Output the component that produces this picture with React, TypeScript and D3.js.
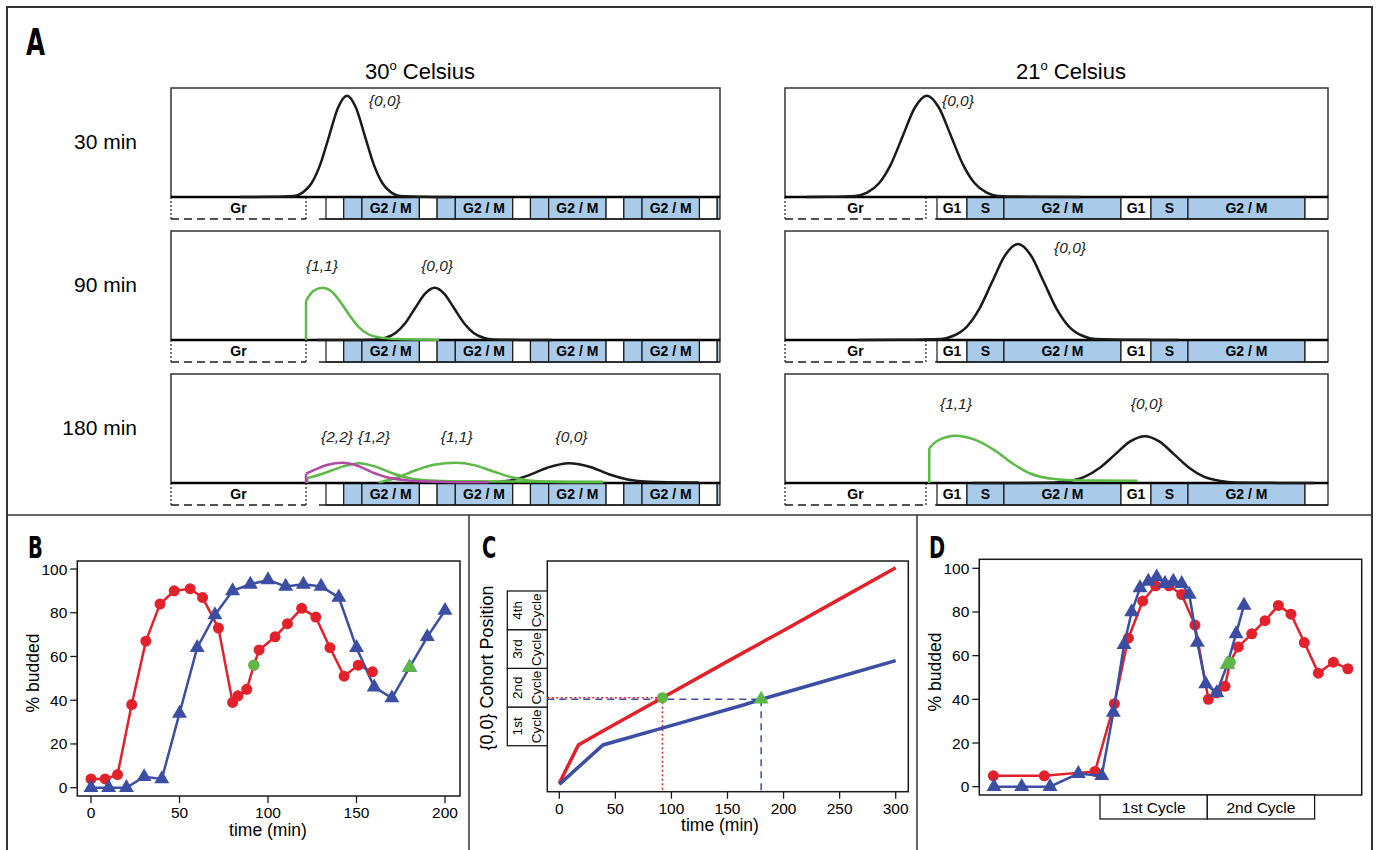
import React from "react";
import * as d3 from "d3";

const FONT = "'Liberation Sans', Arial, Helvetica, sans-serif";
const LABEL_FONT = "'DejaVu Sans Condensed', 'Liberation Sans Narrow', 'Liberation Sans', sans-serif";
const CELL_BLUE = "#a9cbe9";
const RED = "#e3212b";
const NAVY = "#3b4ea3";
const GREEN = "#5cb946";
const MAGENTA = "#b04aa6";
const INK = "#1a1a1a";

// ---------- Panel A: cohort densities (x = cell-cycle units, y = fraction of box height)
const temperatures = ["30", "21"];
const sampleTimes = ["30 min", "90 min", "180 min"];
const warmPhases: [string, number, number][] = [["G1", 0, 0.19], ["S", 0.19, 0.385], ["G2 / M", 0.385, 1]];
const coolPhases: [string, number, number][] = [["G1", 0, 0.163], ["S", 0.163, 0.364], ["G2 / M", 0.364, 1]];

const warm30_00 = [[-0.92, 0], [-0.6, 0.002], [-0.345, 0.01], [-0.25, 0.04], [-0.155, 0.126], [-0.06, 0.302], [0.035, 0.564], [0.13, 0.821], [0.225, 0.93], [0.32, 0.821], [0.415, 0.564], [0.51, 0.302], [0.605, 0.126], [0.7, 0.04], [0.795, 0.01], [1.05, 0.002], [1.35, 0]];
const warm90_11 = [[-0.214, 0.36], [-0.136, 0.45], [-0.038, 0.48], [0.06, 0.445], [0.158, 0.345], [0.257, 0.22], [0.354, 0.116], [0.45, 0.055], [0.57, 0.024], [0.76, 0.009], [1.21, 0.003]];
const warm90_00 = [[-0.096, 0], [0.3, 0.001], [0.536, 0.005], [0.641, 0.021], [0.745, 0.065], [0.85, 0.156], [0.954, 0.291], [1.059, 0.424], [1.163, 0.48], [1.268, 0.424], [1.372, 0.291], [1.477, 0.156], [1.581, 0.065], [1.686, 0.021], [1.79, 0.005], [2.1, 0.001], [2.42, 0]];
const warm180_22 = [[-0.214, 0.085], [-0.097, 0.13], [0.02, 0.167], [0.177, 0.185], [0.33, 0.16], [0.49, 0.1], [0.64, 0.055], [0.88, 0.024], [1.19, 0.012], [1.74, 0.006]];
const warm180_12 = [[-0.2, 0.045], [-0.02, 0.09], [0.177, 0.15], [0.354, 0.182], [0.53, 0.15], [0.725, 0.085], [0.92, 0.04], [1.12, 0.024], [1.6, 0.015], [2.97, 0.012]];
const warm180_11 = [[0.57, 0.006], [0.76, 0.048], [0.955, 0.115], [1.155, 0.167], [1.39, 0.185], [1.585, 0.164], [1.78, 0.11], [1.976, 0.055], [2.17, 0.024], [2.37, 0.012], [2.97, 0.006]];
const warm180_00 = [[1.74, 0.006], [1.976, 0.024], [2.17, 0.07], [2.37, 0.14], [2.6, 0.182], [2.84, 0.145], [3.03, 0.08], [3.23, 0.033], [3.46, 0.012], [3.99, 0.005]];

const cool30_00 = [[-0.71, 0], [-0.6, 0.002], [-0.445, 0.01], [-0.38, 0.04], [-0.315, 0.126], [-0.25, 0.302], [-0.185, 0.564], [-0.12, 0.821], [-0.055, 0.93], [0.01, 0.821], [0.075, 0.564], [0.14, 0.302], [0.205, 0.126], [0.27, 0.04], [0.335, 0.01], [0.5, 0.002], [0.78, 0]];
const cool90_00 = [[-0.43, 0], [-0.2, 0.002], [0.02, 0.01], [0.09, 0.039], [0.16, 0.119], [0.23, 0.286], [0.3, 0.534], [0.37, 0.777], [0.44, 0.88], [0.51, 0.777], [0.58, 0.534], [0.65, 0.286], [0.72, 0.119], [0.79, 0.039], [0.86, 0.01], [1.1, 0.002], [1.31, 0]];
const cool180_11 = [[-0.042, 0.32], [0.005, 0.39], [0.103, 0.433], [0.2, 0.4], [0.316, 0.297], [0.413, 0.176], [0.51, 0.085], [0.626, 0.04], [0.8, 0.024], [1.09, 0.02]];
const cool180_00 = [[0.196, 0], [0.45, 0.001], [0.641, 0.005], [0.722, 0.019], [0.804, 0.058], [0.885, 0.14], [0.967, 0.26], [1.048, 0.38], [1.13, 0.43], [1.21, 0.38], [1.29, 0.26], [1.37, 0.14], [1.45, 0.058], [1.54, 0.019], [1.62, 0.005], [1.85, 0.001], [2.05, 0]];

const warmRows = [
  [{ id: "{0,0}", pts: warm30_00 }],
  [{ id: "{0,0}", pts: warm90_00 }, { id: "{1,1}", pts: warm90_11 }],
  [{ id: "{0,0}", pts: warm180_00 }, { id: "{1,1}", pts: warm180_11 }, { id: "{1,2}", pts: warm180_12 }, { id: "{2,2}", pts: warm180_22 }],
];
const coolRows = [
  [{ id: "{0,0}", pts: cool30_00 }],
  [{ id: "{0,0}", pts: cool90_00 }],
  [{ id: "{0,0}", pts: cool180_00 }, { id: "{1,1}", pts: cool180_11 }],
];
const warmTags: [string, number, number][][] = [
  [["{0,0}", 0.63, 0.88]],
  [["{1,1}", -0.043, 0.68], ["{0,0}", 1.19, 0.68]],
  [["{2,2}", 0.118, 0.42], ["{1,2}", 0.514, 0.42], ["{1,1}", 1.4, 0.42], ["{0,0}", 2.63, 0.42]],
];
const coolTags: [string, number, number][][] = [
  [["{0,0}", 0.114, 0.88]],
  [["{0,0}", 0.723, 0.84]],
  [["{1,1}", 0.103, 0.725], ["{0,0}", 1.14, 0.725]],
];

// ---------- Panel B: % budded vs time
const budTicksX = [0, 50, 100, 150, 200];
const budTicksY = [0, 20, 40, 60, 80, 100];
const budRed30 = [[0, 4], [8, 4], [15, 6], [23, 38], [31, 67], [39, 84], [47, 90], [56, 91], [63, 87], [72, 73], [80, 39], [83, 42], [88, 45], [92, 56], [95, 63], [104, 69], [111, 75], [119, 82], [127, 78], [135, 64], [143, 51], [151, 56], [159, 53]];
const budBlue21 = [[0, 0], [10, 0], [20, 0], [30, 5], [40, 4], [50, 34], [60, 64], [70, 79], [80, 90], [90, 93], [100, 95], [110, 92], [120, 93], [130, 92], [140, 87], [150, 64], [160, 46], [170, 41], [180, 55], [190, 69], [200, 81]];
const budRedMark = [92, 56];
const budBlueMark = [180, 55];

// ---------- Panel C: {0,0} cohort position vs time
const cohortTicksX = [0, 50, 100, 150, 200, 250, 300];
const cycleNames = ["1st", "2nd", "3rd", "4th"];
const cohortRed = [[0, 0.03], [17, 1.02], [40, 1.4], [92, 2.24], [150, 3.18], [200, 3.98], [250, 4.79], [300, 5.6]];
const cohortBlue = [[0, 0], [39, 1.02], [91, 1.45], [165, 2.06], [180, 2.2], [240, 2.7], [300, 3.2]];
const cohortRedMark = [92, 2.24];
const cohortBlueMark = [180, 2.2];

// ---------- Panel D: % budded aligned by cycle position
const alignCycles = ["1st Cycle", "2nd Cycle"];
const alignRed = [[-0.994, 5], [-0.519, 5], [-0.047, 7], [0.134, 38], [0.264, 68], [0.398, 85], [0.519, 92], [0.643, 92], [0.761, 88], [0.885, 74], [1.01, 40], [1.088, 43], [1.165, 46], [1.212, 57], [1.289, 64], [1.414, 70], [1.538, 76], [1.662, 83], [1.78, 79], [1.904, 66], [2.035, 52], [2.175, 57], [2.31, 54]];
const alignBlue = [[-0.988, 0], [-0.73, 0], [-0.466, 0], [-0.202, 6], [0.016, 5], [0.124, 34], [0.224, 65], [0.295, 80], [0.373, 91], [0.45, 94], [0.528, 96], [0.606, 93], [0.683, 94], [0.761, 93], [0.832, 88], [0.907, 66], [0.985, 47], [1.088, 43], [1.187, 56], [1.268, 70], [1.342, 83]];
const alignRedMark = [1.212, 57];
const alignBlueMark = [1.187, 56];

const tagColor = (id: string) => (id === "{0,0}" ? INK : id === "{2,2}" ? MAGENTA : GREEN);

function PanelLetter({ x, y, size, children }: any) {
  return (
    <text transform={`translate(${x},${y}) scale(0.72,1)`} fontFamily={LABEL_FONT} fontWeight="bold" fontSize={size}>{children}</text>
  );
}

function PanelA() {
  const rowTops = [88, 231, 374];
  const boxH = 109;
  const barH = 22;
  const sides = [
    { x0: 171, x1: 720, dom: [-1.66, 4.22], grEnd: -0.214, rowFrom: -0.075, phases: warmPhases, shortTags: false, rows: warmRows, tags: warmTags, titleX: 420 },
    { x0: 785, x1: 1328, dom: [-0.826, 2.125], grEnd: -0.06, rowFrom: -0.01, phases: coolPhases, shortTags: true, rows: coolRows, tags: coolTags, titleX: 1071 },
  ];
  return (
    <g>
      <PanelLetter x={26} y={55} size={38}>A</PanelLetter>
      {sampleTimes.map((t, i) => (
        <text key={t} x={137} y={rowTops[i] + 61} textAnchor="end" fontSize={21}>{t}</text>
      ))}
      {sides.map((s, si) => {
        const xs = d3.scaleLinear().domain(s.dom).range([s.x0, s.x1]);
        const dmax = s.dom[1];
        const cells: { a: number; b: number; name: string }[] = [];
        for (let k = 0; k <= Math.ceil(dmax); k++) {
          for (const [name, from, to] of s.phases) {
            const a = k + from;
            const b = Math.min(k + to, dmax);
            if (a < dmax) cells.push({ a, b, name });
          }
        }
        return (
          <g key={si}>
            <text x={s.titleX} y={79} textAnchor="middle" fontSize={22}>
              {temperatures[si]}
              <tspan dy={-9} fontSize={13}>o</tspan>
              <tspan dy={9}> Celsius</tspan>
            </text>
            {rowTops.map((top, ri) => {
              const base = top + boxH;
              const ys = d3.scaleLinear().domain([0, 1]).range([base, top]);
              const smooth = d3.line<number[]>().x(d => xs(d[0])).y(d => ys(d[1])).curve(d3.curveMonotoneX);
              const straight = d3.line<number[]>().x(d => xs(d[0])).y(d => ys(d[1]));
              return (
                <g key={ri}>
                  {cells.map((c, ci) => {
                    const w = xs(c.b) - xs(c.a);
                    const show = c.name === "G2 / M" || s.shortTags;
                    return (
                      <g key={ci}>
                        <rect x={xs(c.a)} y={base} width={w} height={barH} fill={c.name === "G1" ? "#fff" : CELL_BLUE} stroke={INK} strokeWidth={1.2} />
                        {show && w > 27 && (
                          <text x={xs(c.a) + w / 2} y={base + 16} textAnchor="middle" fontWeight="bold" fontSize={14}>{c.name}</text>
                        )}
                      </g>
                    );
                  })}
                  <line x1={xs(s.rowFrom)} x2={s.x1} y1={base + barH} y2={base + barH} stroke={INK} strokeWidth={1.5} />
                  <line x1={s.x0} x2={xs(s.grEnd)} y1={base + barH} y2={base + barH} stroke={INK} strokeWidth={1.4} strokeDasharray="8,5" />
                  <line x1={s.x0} x2={s.x0} y1={base} y2={base + barH} stroke={INK} strokeWidth={1.2} strokeDasharray="2,2" />
                  <line x1={xs(s.grEnd)} x2={xs(s.grEnd)} y1={base} y2={base + barH} stroke={INK} strokeWidth={1.2} strokeDasharray="2,2" />
                  <text x={(s.x0 + xs(s.grEnd)) / 2} y={base + 16} textAnchor="middle" fontWeight="bold" fontSize={14}>Gr</text>
                  <rect x={s.x0} y={top} width={s.x1 - s.x0} height={boxH} fill="none" stroke="#333" strokeWidth={1.5} />
                  <line x1={s.x0} x2={s.x1} y1={base} y2={base} stroke="#000" strokeWidth={2.5} />
                  {s.rows[ri].map(c => (
                    <g key={c.id}>
                      {c.pts[0][1] > 0 && (
                        <path d={straight([[c.pts[0][0], 0], c.pts[0]]) || ""} fill="none" stroke={tagColor(c.id)} strokeWidth={2.5} />
                      )}
                      <path d={smooth(c.pts) || ""} fill="none" stroke={tagColor(c.id)} strokeWidth={2.5} strokeLinejoin="round" />
                    </g>
                  ))}
                  {s.tags[ri].map(([label, tx, ty]) => (
                    <text key={label} x={xs(tx)} y={ys(ty) + 5} textAnchor="middle" fontStyle="italic" fontSize={15.5} fill="#222">{label}</text>
                  ))}
                </g>
              );
            })}
          </g>
        );
      })}
    </g>
  );
}

function Marks({ data, x, y, kind, color, size }: any) {
  return (
    <g>
      {data.map((d: number[], i: number) =>
        kind === "circle" ? (
          <circle key={i} cx={x(d[0])} cy={y(d[1])} r={size} fill={color} />
        ) : (
          <path key={i} transform={`translate(${x(d[0])},${y(d[1])})`} d={d3.symbol(d3.symbolTriangle, size * size * 3.2)() || ""} fill={color} />
        )
      )}
    </g>
  );
}

function LeftTicks({ y, ticks, at }: any) {
  return (
    <g>
      <line x1={at} x2={at} y1={y(ticks[0])} y2={y(ticks[ticks.length - 1])} stroke={INK} strokeWidth={1.3} />
      {ticks.map((t: number) => (
        <g key={t}>
          <line x1={at - 7} x2={at} y1={y(t)} y2={y(t)} stroke={INK} strokeWidth={1.3} />
          <text x={at - 10} y={y(t) + 5.5} textAnchor="end" fontSize={15.5}>{t}</text>
        </g>
      ))}
    </g>
  );
}

function BottomTicks({ x, ticks, at }: any) {
  return (
    <g>
      {ticks.map((t: number) => (
        <g key={t}>
          <line x1={x(t)} x2={x(t)} y1={at} y2={at + 7} stroke={INK} strokeWidth={1.3} />
          <text x={x(t)} y={at + 22} textAnchor="middle" fontSize={15.5}>{t}</text>
        </g>
      ))}
    </g>
  );
}

function PanelB() {
  const x = d3.scaleLinear().domain([0, 200]).range([91, 445]);
  const y = d3.scaleLinear().domain([0, 100]).range([787.7, 569]);
  const line = d3.line<number[]>().x(d => x(d[0])).y(d => y(d[1]));
  return (
    <g>
      <PanelLetter x={28} y={558} size={30}>B</PanelLetter>
      <rect x={77.3} y={561} width={382.7} height={235} fill="none" stroke={INK} strokeWidth={1.5} />
      <LeftTicks y={y} ticks={budTicksY} at={77.3} />
      <BottomTicks x={x} ticks={budTicksX} at={796} />
      <text transform="translate(39,673) rotate(-90)" textAnchor="middle" fontSize={17.5}>% budded</text>
      <text x={268} y={836} textAnchor="middle" fontSize={17.5}>time (min)</text>
      <path d={line(budRed30) || ""} fill="none" stroke={RED} strokeWidth={2.5} />
      <path d={line(budBlue21) || ""} fill="none" stroke={NAVY} strokeWidth={2.5} />
      <Marks data={budRed30} x={x} y={y} kind="circle" color={RED} size={5.5} />
      <Marks data={budBlue21} x={x} y={y} kind="tri" color={NAVY} size={5.5} />
      <Marks data={[budRedMark]} x={x} y={y} kind="circle" color={GREEN} size={5.5} />
      <Marks data={[budBlueMark]} x={x} y={y} kind="tri" color={GREEN} size={5.5} />
    </g>
  );
}

function PanelC() {
  const x = d3.scaleLinear().domain([0, 300]).range([559.3, 895.7]);
  const y = d3.scaleLinear().domain([0, 5]).range([784.4, 591]);
  const line = d3.line<number[]>().x(d => x(d[0])).y(d => y(d[1]));
  const left = 547.3, right = 908.3, top = 561, bottom = 791.7;
  return (
    <g>
      <PanelLetter x={482} y={558} size={30}>C</PanelLetter>
      <rect x={left} y={top} width={right - left} height={bottom - top} fill="none" stroke={INK} strokeWidth={1.5} />
      <BottomTicks x={x} ticks={cohortTicksX} at={bottom} />
      <text x={720} y={831} textAnchor="middle" fontSize={17.5}>time (min)</text>
      <text transform="translate(493,668) rotate(-90)" textAnchor="middle" fontSize={18}>{"{0,0} Cohort Position"}</text>
      {cycleNames.map((c, i) => {
        const y0 = y(i + 1), y1 = y(i + 2);
        const mid = (y0 + y1) / 2;
        return (
          <g key={c}>
            <rect x={507.3} y={y1} width={left - 507.3} height={y0 - y1} fill="#fff" stroke={INK} strokeWidth={1.3} />
            <text transform={`translate(522,${mid}) rotate(-90)`} textAnchor="middle" fontSize={13.5}>{c}</text>
            <text transform={`translate(541,${mid}) rotate(-90)`} textAnchor="middle" fontSize={13.5}>Cycle</text>
          </g>
        );
      })}
      <line x1={left} x2={x(cohortBlueMark[0])} y1={y(cohortBlueMark[1])} y2={y(cohortBlueMark[1])} stroke={NAVY} strokeWidth={1.5} strokeDasharray="7,5" />
      <line x1={x(cohortBlueMark[0])} x2={x(cohortBlueMark[0])} y1={y(cohortBlueMark[1])} y2={bottom} stroke={NAVY} strokeWidth={1.5} strokeDasharray="7,5" />
      <line x1={left} x2={x(cohortRedMark[0])} y1={y(cohortRedMark[1])} y2={y(cohortRedMark[1])} stroke={RED} strokeWidth={1.5} strokeDasharray="2,2.5" />
      <line x1={x(cohortRedMark[0])} x2={x(cohortRedMark[0])} y1={y(cohortRedMark[1])} y2={bottom} stroke={RED} strokeWidth={1.5} strokeDasharray="2,2.5" />
      <path d={line(cohortRed) || ""} fill="none" stroke={RED} strokeWidth={3.5} />
      <path d={line(cohortBlue) || ""} fill="none" stroke={NAVY} strokeWidth={3.5} />
      <Marks data={[cohortRedMark]} x={x} y={y} kind="circle" color={GREEN} size={5.5} />
      <Marks data={[cohortBlueMark]} x={x} y={y} kind="tri" color={GREEN} size={5.5} />
    </g>
  );
}

function PanelD() {
  const x = d3.scaleLinear().domain([-1.125, 2.439]).range([979.3, 1361.7]);
  const y = d3.scaleLinear().domain([0, 100]).range([786.7, 568.3]);
  const line = d3.line<number[]>().x(d => x(d[0])).y(d => y(d[1]));
  const bottom = 795;
  return (
    <g>
      <PanelLetter x={929} y={558} size={30}>D</PanelLetter>
      <rect x={979.3} y={559.3} width={382.4} height={bottom - 559.3} fill="none" stroke={INK} strokeWidth={1.5} />
      <LeftTicks y={y} ticks={budTicksY} at={979.3} />
      <text transform="translate(941,672) rotate(-90)" textAnchor="middle" fontSize={17.5}>% budded</text>
      {alignCycles.map((c, i) => (
        <g key={c}>
          <rect x={x(i)} y={bottom} width={x(i + 1) - x(i)} height={24} fill="#fff" stroke={INK} strokeWidth={1.3} />
          <text x={(x(i) + x(i + 1)) / 2} y={bottom + 18} textAnchor="middle" fontSize={15.5}>{c}</text>
        </g>
      ))}
      <path d={line(alignRed) || ""} fill="none" stroke={RED} strokeWidth={2.5} />
      <Marks data={alignRed} x={x} y={y} kind="circle" color={RED} size={5.5} />
      <path d={line(alignBlue) || ""} fill="none" stroke={NAVY} strokeWidth={2.5} />
      <Marks data={alignBlue} x={x} y={y} kind="tri" color={NAVY} size={5.5} />
      <Marks data={[alignRedMark]} x={x} y={y} kind="circle" color={GREEN} size={5.5} />
      <Marks data={[alignBlueMark]} x={x} y={y} kind="tri" color={GREEN} size={5.5} />
    </g>
  );
}

export default function App() {
  return (
    <svg width={1377} height={850} style={{ position: "absolute", left: 0, top: 0, background: "#fff" }} fontFamily={FONT}>
      <rect x={7} y={7} width={1365} height={850} fill="none" stroke="#333" strokeWidth={2} />
      <line x1={7} x2={1372} y1={515} y2={515} stroke="#333" strokeWidth={1.5} />
      <line x1={469} x2={469} y1={515} y2={850} stroke="#333" strokeWidth={1.5} />
      <line x1={917} x2={917} y1={515} y2={850} stroke="#333" strokeWidth={1.5} />
      <PanelA />
      <PanelB />
      <PanelC />
      <PanelD />
    </svg>
  );
}
